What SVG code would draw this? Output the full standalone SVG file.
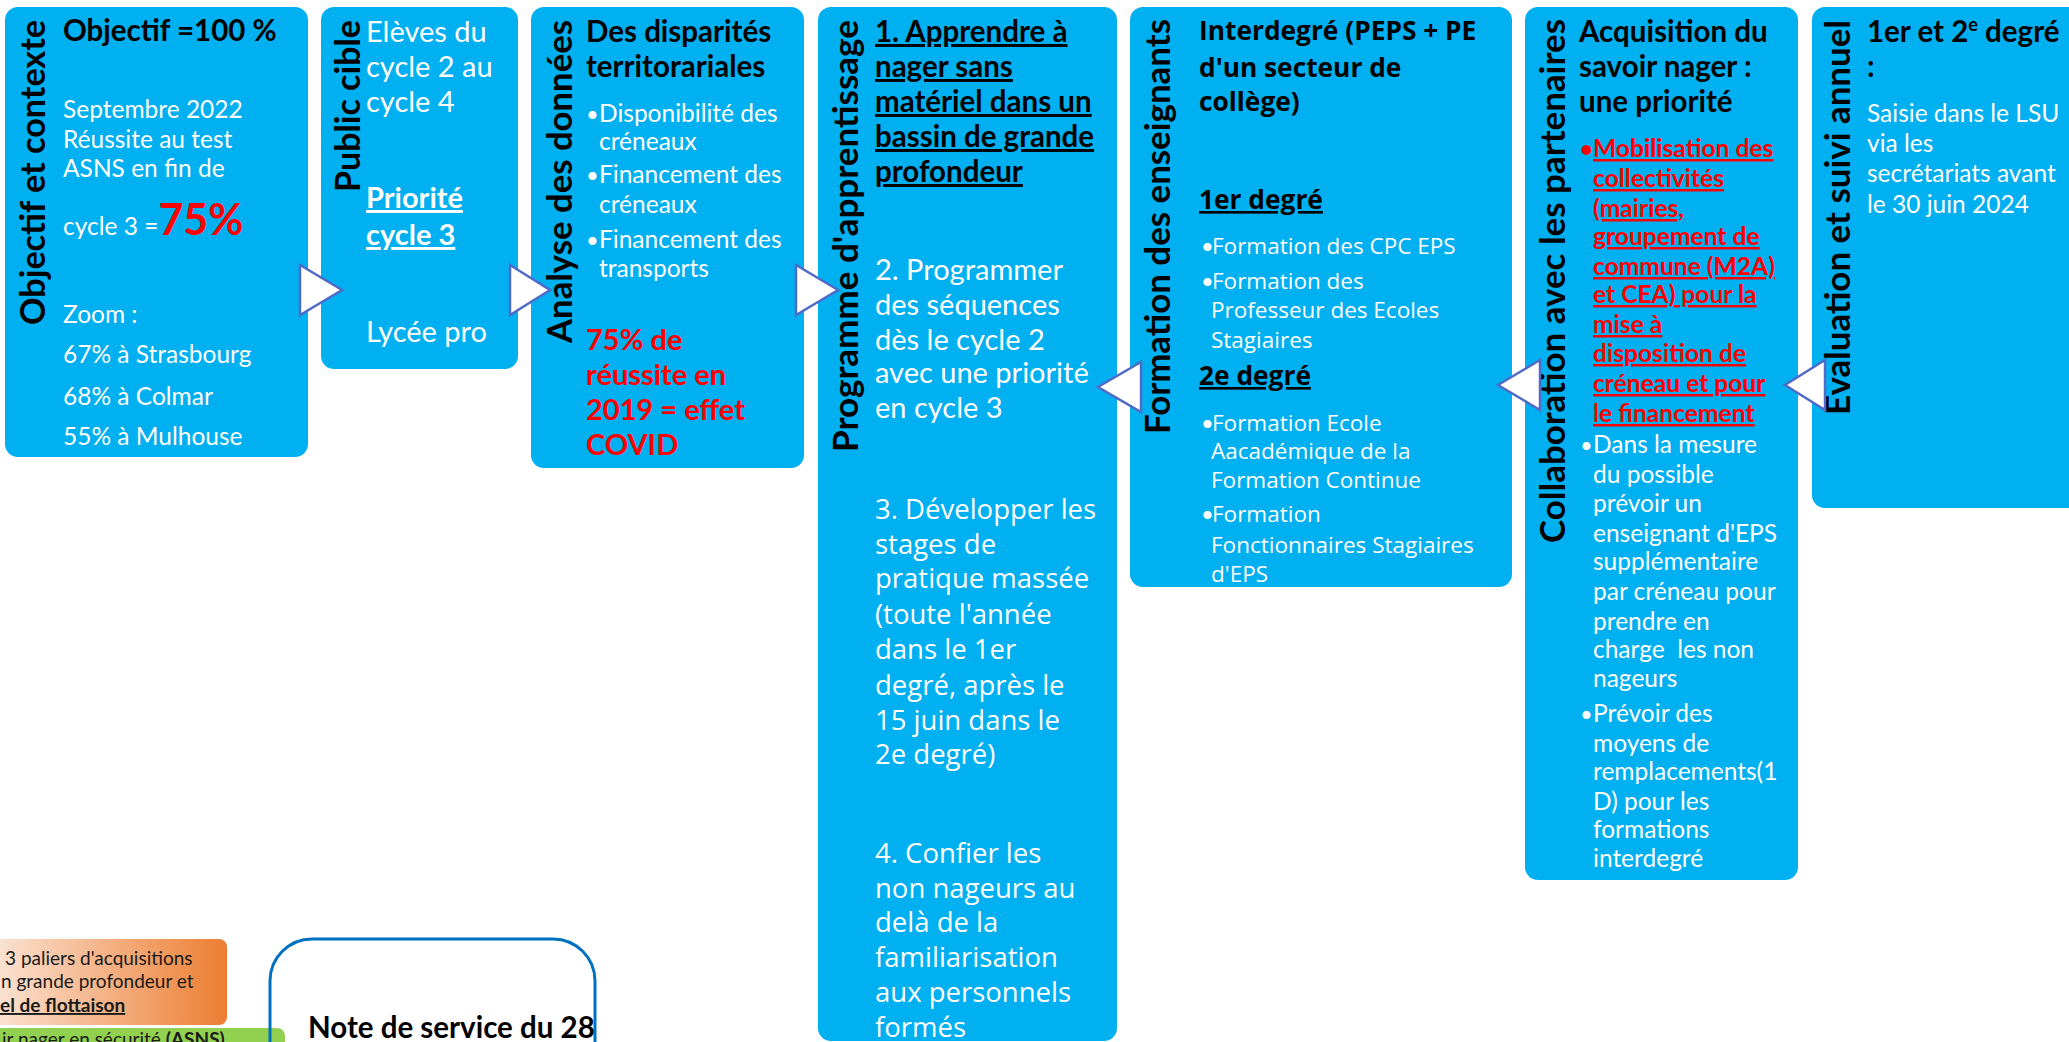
<svg xmlns="http://www.w3.org/2000/svg" width="2069" height="1042" viewBox="0 0 2069 1042">
<defs>
<style>
.node{fill:#00B0F0}
.arrow{fill:#FFFFFF;stroke:#4F6BC7;stroke-width:2.5;stroke-linejoin:miter}
.vt{font-family:Lato,"Liberation Sans",sans-serif;font-weight:700;font-size:34px;fill:#000}
.hb{font-family:Lato,"Liberation Sans",sans-serif;font-weight:700;font-size:29.5px;fill:#000}
.w{font-family:Lato,"Liberation Sans",sans-serif;font-size:24.5px;fill:#FFFFFF}
.w29{font-family:Lato,"Liberation Sans",sans-serif;font-size:29px;fill:#FFFFFF}
.wb29{font-family:Lato,"Liberation Sans",sans-serif;font-weight:700;font-size:29px;fill:#FFFFFF}
.rb{font-family:Lato,"Liberation Sans",sans-serif;font-weight:700;font-size:29px;fill:#FF0000}
.rb24{font-family:Lato,"Liberation Sans",sans-serif;font-weight:700;font-size:24.6px;fill:#FF0000}
.os{font-family:"Open Sans","DejaVu Sans",sans-serif;font-size:27.5px;fill:#FFFFFF}
.os22{font-family:"Open Sans","DejaVu Sans",sans-serif;font-size:22.5px;fill:#FFFFFF}
.osb{font-family:"Open Sans","DejaVu Sans",sans-serif;font-weight:700;font-size:26.3px;fill:#000}
.bul{font-family:Lato,"Liberation Sans",sans-serif;font-size:22px}
.small{font-family:Lato,"Liberation Sans",sans-serif;font-size:19px;fill:#1A1A1A}
.u{text-decoration:underline}
</style>
<linearGradient id="orangeGrad" gradientUnits="userSpaceOnUse" x1="0" y1="0" x2="227" y2="0">
<stop offset="0" stop-color="#FAE1D0"/>
<stop offset="1" stop-color="#ED7D31"/>
</linearGradient>
</defs>
<rect x="0" y="0" width="2069" height="1042" fill="#FFFFFF"/>

<g id="node-objectif">
<rect class="node" x="5" y="7" width="303" height="450" rx="13"/>
<text class="vt" transform="translate(45,325) rotate(-90)" textLength="305" lengthAdjust="spacingAndGlyphs">Objectif et contexte</text>
<text class="hb" x="63" y="41">Objectif =100 %</text>
<text class="w" x="63" y="118">Septembre 2022</text>
<text class="w" x="63" y="148">Réussite au test</text>
<text class="w" x="63" y="177">ASNS en fin de</text>
<text class="w" x="63" y="235">cycle 3 =<tspan font-weight="700" font-size="43px" fill="#FF0000">75%</tspan></text>
<text class="w" x="63" y="323">Zoom :</text>
<text class="w" x="63" y="363">67% à Strasbourg</text>
<text class="w" x="63" y="405">68% à Colmar</text>
<text class="w" x="63" y="445">55% à Mulhouse</text>
</g>

<g id="node-public">
<rect class="node" x="321" y="7" width="197" height="362" rx="13"/>
<text class="vt" transform="translate(360,192) rotate(-90)" textLength="172" lengthAdjust="spacingAndGlyphs">Public cible</text>
<text class="w29" x="366" y="42">Elèves du</text>
<text class="w29" x="366" y="77">cycle 2 au</text>
<text class="w29" x="366" y="112">cycle 4</text>
<text class="wb29 u" x="366" y="208">Priorité</text>
<text class="wb29 u" x="366" y="245">cycle 3</text>
<text class="w29" x="366" y="342">Lycée pro</text>
</g>

<g id="node-analyse">
<rect class="node" x="531" y="7" width="273" height="461" rx="13"/>
<text class="vt" transform="translate(572,343) rotate(-90)" textLength="323" lengthAdjust="spacingAndGlyphs">Analyse des données</text>
<text class="hb" x="586" y="42">Des disparités</text>
<text class="hb" x="586" y="77">territorariales</text>
<text class="w bul" x="586" y="122">•</text>
<text class="w" x="599" y="122">Disponibilité des</text>
<text class="w" x="599" y="150">créneaux</text>
<text class="w bul" x="586" y="183">•</text>
<text class="w" x="599" y="183">Financement des</text>
<text class="w" x="599" y="213">créneaux</text>
<text class="w bul" x="586" y="248">•</text>
<text class="w" x="599" y="248">Financement des</text>
<text class="w" x="599" y="277">transports</text>
<text class="rb" x="586" y="350">75% de</text>
<text class="rb" x="586" y="385">réussite en</text>
<text class="rb" x="586" y="420">2019 = effet</text>
<text class="rb" x="586" y="455">COVID</text>
</g>

<g id="node-programme">
<rect class="node" x="818" y="7" width="299" height="1034" rx="13"/>
<text class="vt" transform="translate(858,452) rotate(-90)" textLength="432" lengthAdjust="spacingAndGlyphs">Programme d'apprentissage</text>
<text class="hb u" x="875" y="42">1. Apprendre à</text>
<text class="hb u" x="875" y="77">nager sans</text>
<text class="hb u" x="875" y="112">matériel dans un</text>
<text class="hb u" x="875" y="147">bassin de grande</text>
<text class="hb u" x="875" y="182">profondeur</text>
<text class="w29" x="875" y="280" font-size="30px">2. Programmer</text>
<text class="w29" x="875" y="315" font-size="30px">des séquences</text>
<text class="w29" x="875" y="350" font-size="30px">dès le cycle 2</text>
<text class="w29" x="875" y="383" font-size="30px">avec une priorité</text>
<text class="w29" x="875" y="418" font-size="30px">en cycle 3</text>
<text class="os" x="875" y="519">3. Développer les</text>
<text class="os" x="875" y="554">stages de</text>
<text class="os" x="875" y="588">pratique massée</text>
<text class="os" x="875" y="624">(toute l'année</text>
<text class="os" x="875" y="659">dans le 1er</text>
<text class="os" x="875" y="695">degré, après le</text>
<text class="os" x="875" y="730">15 juin dans le</text>
<text class="os" x="875" y="764">2e degré)</text>
<text class="os" x="875" y="863">4. Confier les</text>
<text class="os" x="875" y="898">non nageurs au</text>
<text class="os" x="875" y="932">delà de la</text>
<text class="os" x="875" y="967">familiarisation</text>
<text class="os" x="875" y="1002">aux personnels</text>
<text class="os" x="875" y="1037">formés</text>
</g>

<g id="node-formation">
<rect class="node" x="1130" y="7" width="382" height="580" rx="13"/>
<text class="vt" transform="translate(1170,434) rotate(-90)" textLength="415" lengthAdjust="spacingAndGlyphs">Formation des enseignants</text>
<text class="osb" x="1199" y="40">Interdegré (PEPS + PE</text>
<text class="osb" x="1199" y="77">d'un secteur de</text>
<text class="osb" x="1199" y="111">collège)</text>
<text class="osb u" x="1199" y="209">1er degré</text>
<text class="w bul" x="1201" y="254">•</text>
<text class="os22" x="1212" y="254">Formation des CPC EPS</text>
<text class="w bul" x="1201" y="289">•</text>
<text class="os22" x="1212" y="289">Formation des</text>
<text class="os22" x="1211" y="318">Professeur des Ecoles</text>
<text class="os22" x="1211" y="348">Stagiaires</text>
<text class="osb u" x="1199" y="385">2e degré</text>
<text class="w bul" x="1201" y="431">•</text>
<text class="os22" x="1212" y="431">Formation Ecole</text>
<text class="os22" x="1211" y="459">Aacadémique de la</text>
<text class="os22" x="1211" y="488">Formation Continue</text>
<text class="w bul" x="1201" y="522">•</text>
<text class="os22" x="1212" y="522">Formation</text>
<text class="os22" x="1211" y="553">Fonctionnaires Stagiaires</text>
<text class="os22" x="1211" y="582">d'EPS</text>
</g>

<g id="node-collaboration">
<rect class="node" x="1525" y="7" width="273" height="873" rx="13"/>
<text class="vt" transform="translate(1565,543) rotate(-90)" textLength="524" lengthAdjust="spacingAndGlyphs">Collaboration avec les partenaires</text>
<text class="hb" x="1579" y="42">Acquisition du</text>
<text class="hb" x="1579" y="77">savoir nager :</text>
<text class="hb" x="1579" y="112">une priorité</text>
<text class="rb24 bul" x="1580" y="157">•</text>
<text class="rb24 u" x="1593" y="157">Mobilisation des</text>
<text class="rb24 u" x="1593" y="187">collectivités</text>
<text class="rb24 u" x="1593" y="217">(mairies,</text>
<text class="rb24 u" x="1593" y="245">groupement de</text>
<text class="rb24 u" x="1593" y="275">commune (M2A)</text>
<text class="rb24 u" x="1593" y="303">et CEA) pour la</text>
<text class="rb24 u" x="1593" y="333">mise à</text>
<text class="rb24 u" x="1593" y="362">disposition de</text>
<text class="rb24 u" x="1593" y="392">créneau et pour</text>
<text class="rb24 u" x="1593" y="422">le financement</text>
<text class="w bul" x="1580" y="453">•</text>
<text class="w" x="1593" y="453">Dans la mesure</text>
<text class="w" x="1593" y="483">du possible</text>
<text class="w" x="1593" y="512">prévoir un</text>
<text class="w" x="1593" y="542">enseignant d'EPS</text>
<text class="w" x="1593" y="570">supplémentaire</text>
<text class="w" x="1593" y="600">par créneau pour</text>
<text class="w" x="1593" y="630">prendre en</text>
<text class="w" x="1593" y="658" xml:space="preserve">charge  les non</text>
<text class="w" x="1593" y="687">nageurs</text>
<text class="w bul" x="1580" y="722">•</text>
<text class="w" x="1593" y="722">Prévoir des</text>
<text class="w" x="1593" y="752">moyens de</text>
<text class="w" x="1593" y="780">remplacements(1</text>
<text class="w" x="1593" y="810">D) pour les</text>
<text class="w" x="1593" y="838">formations</text>
<text class="w" x="1593" y="867">interdegré</text>
</g>

<g id="node-evaluation">
<rect class="node" x="1812" y="7" width="300" height="501" rx="13"/>
<text class="vt" transform="translate(1850,415) rotate(-90)" textLength="395" lengthAdjust="spacingAndGlyphs">Evaluation et suivi annuel</text>
<text class="hb" x="1867" y="42">1er et 2<tspan dy="-11" font-size="18px">e</tspan><tspan dy="11"> degré</tspan></text>
<text class="hb" x="1867" y="77">:</text>
<text class="w" x="1867" y="122" font-size="25px">Saisie dans le LSU</text>
<text class="w" x="1867" y="152" font-size="25px">via les</text>
<text class="w" x="1867" y="182" font-size="25px">secrétariats avant</text>
<text class="w" x="1867" y="213" font-size="25px">le 30 juin 2024</text>
</g>

<g id="note-paliers">
<rect x="-20" y="939" width="247" height="86" rx="8" fill="url(#orangeGrad)"/>
<text class="small" x="5" y="965">3 paliers d'acquisitions</text>
<text class="small" x="1" y="988">n grande profondeur et</text>
<text class="small u" x="0" y="1012" font-weight="700">el de flottaison</text>
</g>

<g id="note-asns">
<rect x="-20" y="1028" width="305" height="40" rx="8" fill="#92D050"/>
<text class="small" x="2" y="1046">ir nager en sécurité <tspan font-weight="700">(ASNS)</tspan></text>
</g>

<g id="note-service">
<rect x="270" y="939" width="325" height="150" rx="42" fill="none" stroke="#0070C0" stroke-width="3"/>
<text class="hb" x="308" y="1038" font-size="24.7px">Note de service du 28</text>
</g>

<g id="connectors">
<polygon class="arrow" points="300,265 342,290 300,315"/>
<polygon class="arrow" points="510,265 550,290 510,315"/>
<polygon class="arrow" points="796,265 838,290 796,315"/>
<polygon class="arrow" points="1141,362 1098,387 1141,412"/>
<polygon class="arrow" points="1540,360 1498,385 1540,410"/>
<polygon class="arrow" points="1825,360 1785,385 1825,410"/>
</g>
</svg>
